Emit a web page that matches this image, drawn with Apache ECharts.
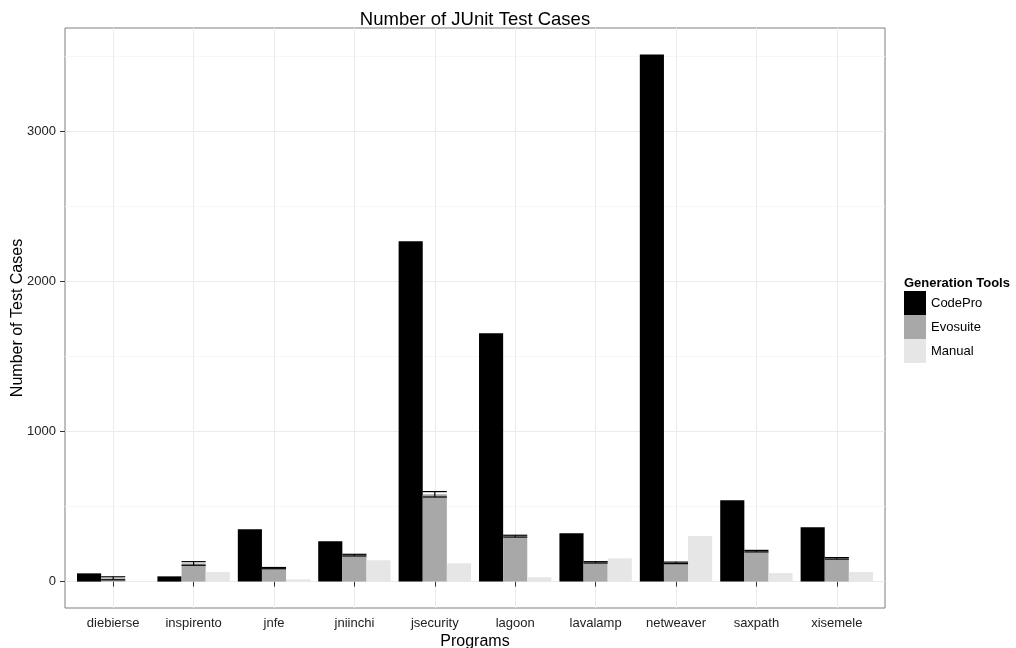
<!DOCTYPE html>
<html>
<head>
<meta charset="utf-8">
<script src="https://cdn.jsdelivr.net/npm/echarts@6/dist/echarts.min.js"></script>
<style>
html,body{margin:0;padding:0;background:#fff;}
#chart{width:1016px;height:648px;}
</style>
</head>
<body>
<div id="chart"></div>
<script>
const programs = ['diebierse','inspirento','jnfe','jniinchi','jsecurity','lagoon','lavalamp','netweaver','saxpath','xisemele'];
const codePro = [55, 35, 349, 269, 2269, 1655, 322, 3515, 542, 362];
const evosuite = [22, 121, 90, 176, 582, 303, 128, 125, 203, 155];
const evosuiteLow = [12, 109, 86, 171, 564, 297, 124, 120, 198, 150];
const evosuiteHigh = [32, 133, 94, 182, 600, 309, 133, 130, 208, 160];
const manual = [2, 64, 15, 142, 122, 29, 155, 304, 57, 64];
const majorTicks = [0, 1000, 2000, 3000];
const minorTicks = [500, 1500, 2500, 3500];
const yMin = -176, yMax = 3691;

const font = 'Liberation Sans, Arial, Helvetica, sans-serif';
const chart = echarts.init(document.getElementById('chart'), null, {renderer:'canvas'});

const errData = programs.map((p, i) => [i, evosuiteLow[i], evosuiteHigh[i]]);

const option = {
  animation: false,
  backgroundColor: '#ffffff',
  textStyle: {fontFamily: font},
  title: [
    {text: 'Number of JUnit Test Cases', left: 475, top: 10, textAlign: 'center', padding: 0,
     textStyle: {fontFamily: font, fontSize: 18.5, fontWeight: 'normal', color: '#000'}},
    {text: 'Generation Tools', left: 904, top: 277, padding: 0,
     textStyle: {fontFamily: font, fontSize: 13, fontWeight: 'bold', color: '#000'}}
  ],
  legend: {
    data: ['CodePro','Evosuite','Manual'],
    orient: 'vertical', left: 904, top: 291, padding: 0,
    itemWidth: 22, itemHeight: 24, itemGap: 0, icon: 'rect',
    selectedMode: false,
    textStyle: {fontFamily: font, fontSize: 13, color: '#000'}
  },
  grid: [
    {left: 65, right: 131, top: 28, bottom: 40, show: true, borderColor: '#7f7f7f', borderWidth: 1,
     backgroundColor: '#fff', containLabel: false, outerBoundsMode: 'none'},
    {left: 73, right: 139, top: 28, bottom: 40, containLabel: false, outerBoundsMode: 'none'}
  ],
  xAxis: [
    {type: 'value', gridIndex: 0, min: 0, max: 1, show: false},
    {type: 'category', gridIndex: 1, data: programs,
     name: 'Programs', nameLocation: 'middle', nameGap: 26, nameMoveOverlap: false,
     nameTextStyle: {fontFamily: font, fontSize: 16, color: '#000'},
     axisLine: {show: false},
     axisTick: {show: true, alignWithLabel: true, length: 5, lineStyle: {color: '#333', width: 1}},
     axisLabel: {fontFamily: font, fontSize: 13, color: '#222', margin: 9},
     splitLine: {show: true, alignWithLabel: true, lineStyle: {color: '#ebebeb', width: 1}}
    }
  ],
  yAxis: [
    {type: 'value', gridIndex: 0, min: yMin, max: yMax,
     name: 'Number of Test Cases', nameLocation: 'middle', nameGap: 39, nameMoveOverlap: false,
     nameTextStyle: {fontFamily: font, fontSize: 16, color: '#000'},
     axisLine: {show: false},
     axisTick: {show: true, length: 5, customValues: majorTicks, lineStyle: {color: '#333', width: 1}},
     axisLabel: {fontFamily: font, fontSize: 13, color: '#222', margin: 9, customValues: majorTicks,
                 formatter: v => String(v)},
     splitLine: {show: true, lineStyle: {color: '#ebebeb', width: 1}}
    },
    {type: 'value', gridIndex: 0, min: yMin, max: yMax, position: 'left',
     axisLine: {show: false},
     axisTick: {show: false, customValues: minorTicks},
     axisLabel: {show: false, customValues: minorTicks},
     splitLine: {show: true, lineStyle: {color: '#f7f7f7', width: 1}}
    },
    {type: 'value', gridIndex: 1, min: yMin, max: yMax, show: false, splitLine: {show: false}}
  ],
  series: [
    {name: 'CodePro', type: 'bar', xAxisIndex: 1, yAxisIndex: 2, data: codePro,
     barCategoryGap: '10%', barGap: '0%', itemStyle: {color: '#000000'}, emphasis: {disabled: true}},
    {name: 'Evosuite', type: 'bar', xAxisIndex: 1, yAxisIndex: 2, data: evosuite,
     barCategoryGap: '10%', barGap: '0%', itemStyle: {color: '#a8a8a8'}, emphasis: {disabled: true}},
    {name: 'Manual', type: 'bar', xAxisIndex: 1, yAxisIndex: 2, data: manual,
     barCategoryGap: '10%', barGap: '0%', itemStyle: {color: '#e6e6e6'}, emphasis: {disabled: true}},
    {name: 'err', type: 'custom', xAxisIndex: 1, yAxisIndex: 2, data: errData, z: 5,
     encode: {x: 0, y: [1, 2]},
     renderItem: function (params, api) {
       const x = api.value(0);
       const lo = api.coord([x, api.value(1)]);
       const hi = api.coord([x, api.value(2)]);
       const hw = api.size([1, 0])[0] * 0.9 / 3 / 2;
       const st = {stroke: '#000', lineWidth: 1.2};
       return {type: 'group', children: [
         {type: 'line', shape: {x1: lo[0]-hw, y1: lo[1], x2: lo[0]+hw, y2: lo[1]}, style: st},
         {type: 'line', shape: {x1: hi[0]-hw, y1: hi[1], x2: hi[0]+hw, y2: hi[1]}, style: st},
         {type: 'line', shape: {x1: lo[0], y1: lo[1], x2: hi[0], y2: hi[1]}, style: st}
       ]};
     }
    }
  ]
};
chart.setOption(option);
</script>
</body>
</html>
